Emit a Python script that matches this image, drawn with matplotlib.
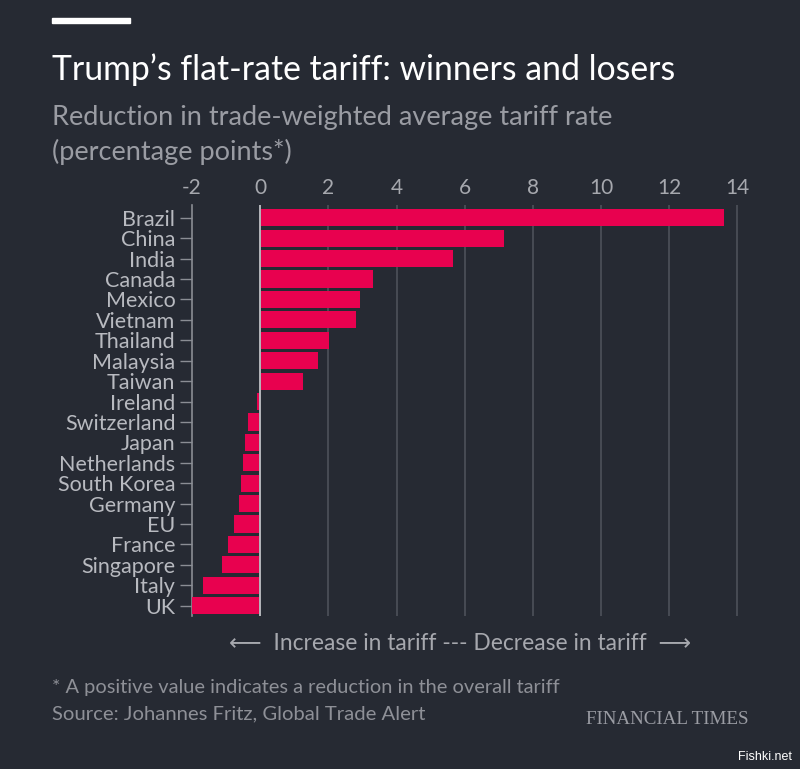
import matplotlib.pyplot as plt

plt.rcParams.update({
    "font.family": ["Lato", "DejaVu Sans"],
    "figure.facecolor": "#262a33",
    "savefig.facecolor": "#262a33",
})

BG = "#262a33"
BAR = "#e8014f"
GRID = "#4d515a"
TXT = "#a6a8ae"

countries = ["Brazil", "China", "India", "Canada", "Mexico", "Vietnam", "Thailand",
             "Malaysia", "Taiwan", "Ireland", "Switzerland", "Japan", "Netherlands",
             "South Korea", "Germany", "EU", "France", "Singapore", "Italy", "UK"]
reduction = [13.6, 7.15, 5.65, 3.3, 2.92, 2.82, 2.03, 1.7, 1.27, -0.08, -0.35, -0.44,
             -0.5, -0.56, -0.62, -0.76, -0.94, -1.12, -1.69, -2.04]
xticks = [-2, 0, 2, 4, 6, 8, 10, 12, 14]

fig = plt.figure(figsize=(8, 7.69), dpi=100)
ax = fig.add_axes([0.24, 0.199, 0.6925, 0.5344])
ax.set_facecolor(BG)

ypos = list(range(len(countries)))
ax.barh(ypos, reduction, height=0.84, color=BAR, zorder=3)

ax.set_xlim(-2, 14.25)
ax.set_ylim(19.5, -0.62)

for x in xticks[2:]:
    ax.axvline(x, color=GRID, lw=1.2, zorder=1)
ax.axvline(0, color="#b4b6bb", lw=1.4, zorder=4)

ax.set_xticks(xticks)
ax.set_xticklabels([str(t) for t in xticks])
ax.xaxis.tick_top()
ax.tick_params(axis="x", length=0, pad=5, labelsize=15, labelcolor=TXT)
ax.set_yticks(ypos)
ax.set_yticklabels(countries)
ax.tick_params(axis="y", length=9, width=1, color="#8a8d94", pad=3,
               labelsize=15.5, labelcolor="#b8bac0")

for s in ["top", "right", "bottom"]:
    ax.spines[s].set_visible(False)
ax.spines["left"].set_color("#8a8d94")
ax.spines["left"].set_linewidth(1.2)

# top rule
fig.add_artist(plt.Rectangle((52 / 800, 1 - 23 / 769), 78 / 800, 5 / 769,
                             color="white", transform=fig.transFigure))

fig.text(52 / 800, 1 - 70 / 769, "Trump\u2019s flat-rate tariff: winners and losers",
         color="white", fontsize=24.3, va="center")
fig.text(52 / 800, 1 - 117 / 769, "Reduction in trade-weighted average tariff rate",
         color="#9a9ca3", fontsize=19.5, va="center")
fig.text(52 / 800, 1 - 152 / 769, "(percentage points*)",
         color="#9a9ca3", fontsize=19.5, va="center")

fig.text(460 / 800, 1 - 643 / 769, "\u27f5  Increase in tariff --- Decrease in tariff  \u27f6",
         color="#a6a8ae", fontsize=16.4, ha="center", va="center",
         family=["Lato", "DejaVu Sans"])
fig.text(52 / 800, 1 - 688 / 769, "* A positive value indicates a reduction in the overall tariff",
         color="#8e9097", fontsize=14.4, va="center")
fig.text(52 / 800, 1 - 714 / 769, "Source: Johannes Fritz, Global Trade Alert",
         color="#8e9097", fontsize=14.6, va="center")
fig.text(748 / 800, 1 - 720 / 769, "FINANCIAL TIMES", color="#9a9ca3", fontsize=13.7,
         ha="right", va="center", family="Liberation Serif")
fig.text(792 / 800, 1 - 757 / 769, "Fishki.net", color="white", fontsize=9,
         ha="right", va="center", family="Liberation Sans")

fig.savefig("out.png", dpi=100)
